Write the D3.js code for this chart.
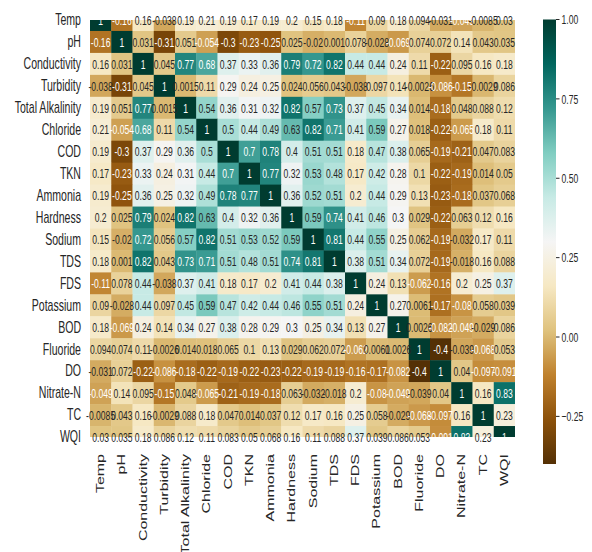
<!DOCTYPE html>
<html>
<head>
<meta charset="utf-8">
<script src="https://cdn.jsdelivr.net/npm/d3@7"></script>
<style>
  html, body { margin: 0; padding: 0; background: #ffffff; }
  svg { display: block; }
  text { font-family: 'Liberation Sans', Arial, Helvetica, sans-serif; }
</style>
</head>
<body>
<svg id="chart" width="592" height="552"></svg>
<script>
// Water-quality parameters (rows and columns of the correlation matrix)
const variables = ["Temp", "pH", "Conductivity", "Turbidity", "Total Alkalinity", "Chloride",
  "COD", "TKN", "Ammonia", "Hardness", "Sodium", "TDS", "FDS", "Potassium", "BOD",
  "Fluoride", "DO", "Nitrate-N", "TC", "WQI"];

// Pearson correlation coefficients, one row per parameter
const rTemp         = [1, -0.16, 0.16, -0.038, 0.19, 0.21, 0.19, 0.17, 0.19, 0.2, 0.15, 0.18, -0.11, 0.09, 0.18, 0.094, -0.031, -0.049, -0.0085, 0.03];
const rPH           = [-0.16, 1, 0.031, -0.31, 0.051, -0.054, -0.3, -0.23, -0.25, 0.025, -0.02, 0.001, 0.078, -0.028, -0.069, 0.074, 0.072, 0.14, 0.043, 0.035];
const rConductivity = [0.16, 0.031, 1, 0.045, 0.77, 0.68, 0.37, 0.33, 0.36, 0.79, 0.72, 0.82, 0.44, 0.44, 0.24, 0.11, -0.22, 0.095, 0.16, 0.18];
const rTurbidity    = [-0.038, -0.31, 0.045, 1, 0.0015, 0.11, 0.29, 0.24, 0.25, 0.024, 0.056, 0.043, -0.038, 0.097, 0.14, -0.0026, -0.086, -0.15, -0.0029, 0.086];
const rAlkalinity   = [0.19, 0.051, 0.77, 0.0015, 1, 0.54, 0.36, 0.31, 0.32, 0.82, 0.57, 0.73, 0.37, 0.45, 0.34, 0.014, -0.18, 0.048, 0.088, 0.12];
const rChloride     = [0.21, -0.054, 0.68, 0.11, 0.54, 1, 0.5, 0.44, 0.49, 0.63, 0.82, 0.71, 0.41, 0.59, 0.27, 0.018, -0.22, -0.065, 0.18, 0.11];
const rCOD          = [0.19, -0.3, 0.37, 0.29, 0.36, 0.5, 1, 0.7, 0.78, 0.4, 0.51, 0.51, 0.18, 0.47, 0.38, 0.065, -0.19, -0.21, 0.047, 0.083];
const rTKN          = [0.17, -0.23, 0.33, 0.24, 0.31, 0.44, 0.7, 1, 0.77, 0.32, 0.53, 0.48, 0.17, 0.42, 0.28, 0.1, -0.22, -0.19, 0.014, 0.05];
const rAmmonia      = [0.19, -0.25, 0.36, 0.25, 0.32, 0.49, 0.78, 0.77, 1, 0.36, 0.52, 0.51, 0.2, 0.44, 0.29, 0.13, -0.23, -0.18, 0.037, 0.068];
const rHardness     = [0.2, 0.025, 0.79, 0.024, 0.82, 0.63, 0.4, 0.32, 0.36, 1, 0.59, 0.74, 0.41, 0.46, 0.3, 0.029, -0.22, 0.063, 0.12, 0.16];
const rSodium       = [0.15, -0.02, 0.72, 0.056, 0.57, 0.82, 0.51, 0.53, 0.52, 0.59, 1, 0.81, 0.44, 0.55, 0.25, 0.062, -0.19, -0.032, 0.17, 0.11];
const rTDS          = [0.18, 0.001, 0.82, 0.043, 0.73, 0.71, 0.51, 0.48, 0.51, 0.74, 0.81, 1, 0.38, 0.51, 0.34, 0.072, -0.19, -0.018, 0.16, 0.088];
const rFDS          = [-0.11, 0.078, 0.44, -0.038, 0.37, 0.41, 0.18, 0.17, 0.2, 0.41, 0.44, 0.38, 1, 0.24, 0.13, -0.062, -0.16, 0.2, 0.25, 0.37];
const rPotassium    = [0.09, -0.028, 0.44, 0.097, 0.45, 0.59, 0.47, 0.42, 0.44, 0.46, 0.55, 0.51, 0.24, 1, 0.27, 0.0061, -0.17, -0.08, 0.058, 0.039];
const rBOD          = [0.18, -0.069, 0.24, 0.14, 0.34, 0.27, 0.38, 0.28, 0.29, 0.3, 0.25, 0.34, 0.13, 0.27, 1, 0.0026, -0.082, -0.049, -0.029, 0.086];
const rFluoride     = [0.094, 0.074, 0.11, -0.0026, 0.014, 0.018, 0.065, 0.1, 0.13, 0.029, 0.062, 0.072, -0.062, 0.0061, 0.0026, 1, -0.4, -0.039, -0.068, 0.053];
const rDO           = [-0.031, 0.072, -0.22, -0.086, -0.18, -0.22, -0.19, -0.22, -0.23, -0.22, -0.19, -0.19, -0.16, -0.17, -0.082, -0.4, 1, 0.04, -0.097, -0.091];
const rNitrate      = [-0.049, 0.14, 0.095, -0.15, 0.048, -0.065, -0.21, -0.19, -0.18, 0.063, -0.032, -0.018, 0.2, -0.08, -0.049, -0.039, 0.04, 1, 0.16, 0.83];
const rTC           = [-0.0085, 0.043, 0.16, -0.0029, 0.088, 0.18, 0.047, 0.014, 0.037, 0.12, 0.17, 0.16, 0.25, 0.058, -0.029, -0.068, -0.097, 0.16, 1, 0.23];
const rWQI          = [0.03, 0.035, 0.18, 0.086, 0.12, 0.11, 0.083, 0.05, 0.068, 0.16, 0.11, 0.088, 0.37, 0.039, 0.086, 0.053, -0.091, 0.83, 0.23, 1];

const matrix = [rTemp, rPH, rConductivity, rTurbidity, rAlkalinity, rChloride, rCOD, rTKN,
  rAmmonia, rHardness, rSodium, rTDS, rFDS, rPotassium, rBOD, rFluoride, rDO, rNitrate, rTC, rWQI];

// Colour bar ticks
const colorbarTicks = [-0.25, 0, 0.25, 0.5, 0.75, 1];

// ---- layout ----
const svg = d3.select("#chart");
const plot = { left: 90, right: 515, top: 20, bottom: 437 };
const cbar = { x: 543, width: 13, top: 19.5, bottom: 464 };
const squeeze = 0.66;         // horizontal compression applied to all glyphs
const ink = "#262626";

// BrBG diverging colour map (11 ColorBrewer stops, linear in RGB)
const brbg = ["#543005", "#8c510a", "#bf812d", "#dfc27d", "#f6e8c3", "#f5f5f5",
              "#c7eae5", "#80cdc1", "#35978f", "#01665e", "#003c30"];
const flat = matrix.flat();
const vmin = d3.min(flat), vmax = d3.max(flat);
const color = d3.scaleLinear()
  .domain(brbg.map((_, i) => vmin + (vmax - vmin) * i / (brbg.length - 1)))
  .range(brbg)
  .interpolate(d3.interpolateRgb)
  .clamp(true);

// Columns: band scale; rows: linear scale whose window starts and ends half a row in
const x = d3.scaleBand().domain(d3.range(variables.length)).range([plot.left, plot.right]);
const y = d3.scaleLinear().domain([0.5, variables.length - 0.5]).range([plot.top, plot.bottom]);

const defs = svg.append("defs");
defs.append("clipPath").attr("id", "plot-clip")
  .append("rect")
  .attr("x", plot.left).attr("y", plot.top)
  .attr("width", plot.right - plot.left).attr("height", plot.bottom - plot.top);

const cells = [];
matrix.forEach((row, i) => row.forEach((v, j) => cells.push({ i, j, v })));

svg.append("g").attr("clip-path", "url(#plot-clip)")
  .selectAll("rect").data(cells).join("rect")
  .attr("x", d => x(d.j))
  .attr("y", d => y(d.i))
  .attr("width", x.bandwidth() + 0.4)
  .attr("height", y(1) - y(0) + 0.4)
  .attr("fill", d => color(d.v));

// Annotation text colour from relative luminance of the cell colour
function luminance(c) {
  const rgb = d3.rgb(c);
  const lin = [rgb.r, rgb.g, rgb.b].map(u => {
    u /= 255;
    return u <= 0.03928 ? u / 12.92 : Math.pow((u + 0.055) / 1.055, 2.4);
  });
  return 0.2126 * lin[0] + 0.7152 * lin[1] + 0.0722 * lin[2];
}
// two significant digits, trailing zeros trimmed
function fmt(v) {
  let s = Number(v).toPrecision(2);
  if (s.indexOf(".") >= 0) s = s.replace(/0+$/, "").replace(/\.$/, "");
  return s;
}

svg.append("g")
  .selectAll("text").data(cells).join("text")
  .attr("transform", d => `translate(${x(d.j) + x.bandwidth() / 2},${y(d.i + 0.5)}) scale(${squeeze},1)`)
  .attr("text-anchor", "middle")
  .attr("dominant-baseline", "central")
  .attr("font-size", 13)
  .attr("fill", d => luminance(color(d.v)) > 0.408 ? ink : "#ffffff")
  .text(d => fmt(d.v));

// Row labels
svg.append("g")
  .selectAll("text").data(variables).join("text")
  .attr("transform", (d, i) => `translate(${plot.left - 9},${y(i + 0.5)}) scale(${squeeze},1)`)
  .attr("text-anchor", "end")
  .attr("dominant-baseline", "central")
  .attr("font-size", 16)
  .attr("fill", ink)
  .text(d => d);

// Column labels, rotated
svg.append("g")
  .selectAll("text").data(variables).join("text")
  .attr("transform", (d, i) => `translate(${x(i) + x.bandwidth() / 2},${plot.bottom + 17}) scale(${squeeze},1) rotate(-90)`)
  .attr("text-anchor", "end")
  .attr("dominant-baseline", "central")
  .attr("font-size", 16)
  .attr("fill", ink)
  .text(d => d);

// Colour bar
const cy = d3.scaleLinear().domain([vmin, vmax]).range([cbar.bottom, cbar.top]);
const grad = defs.append("linearGradient")
  .attr("id", "cbar-grad").attr("x1", 0).attr("y1", 1).attr("x2", 0).attr("y2", 0);
d3.range(0, 1.0001, 0.05).forEach(t => {
  grad.append("stop").attr("offset", t).attr("stop-color", color(vmin + t * (vmax - vmin)));
});
svg.append("rect")
  .attr("x", cbar.x).attr("y", cbar.top)
  .attr("width", cbar.width).attr("height", cbar.bottom - cbar.top)
  .attr("fill", "url(#cbar-grad)");

const cAxis = svg.append("g");
cAxis.selectAll("line").data(colorbarTicks).join("line")
  .attr("x1", cbar.x + cbar.width).attr("x2", cbar.x + cbar.width + 3.5)
  .attr("y1", d => cy(d)).attr("y2", d => cy(d))
  .attr("stroke", ink).attr("stroke-width", 1);
cAxis.selectAll("text").data(colorbarTicks).join("text")
  .attr("transform", d => `translate(${cbar.x + cbar.width + 5.5},${cy(d)}) scale(${squeeze},1)`)
  .attr("dominant-baseline", "central")
  .attr("font-size", 13)
  .attr("fill", ink)
  .text(d => d3.format(".2f")(d).replace("-", "\u2212"));
</script>
</body>
</html>
